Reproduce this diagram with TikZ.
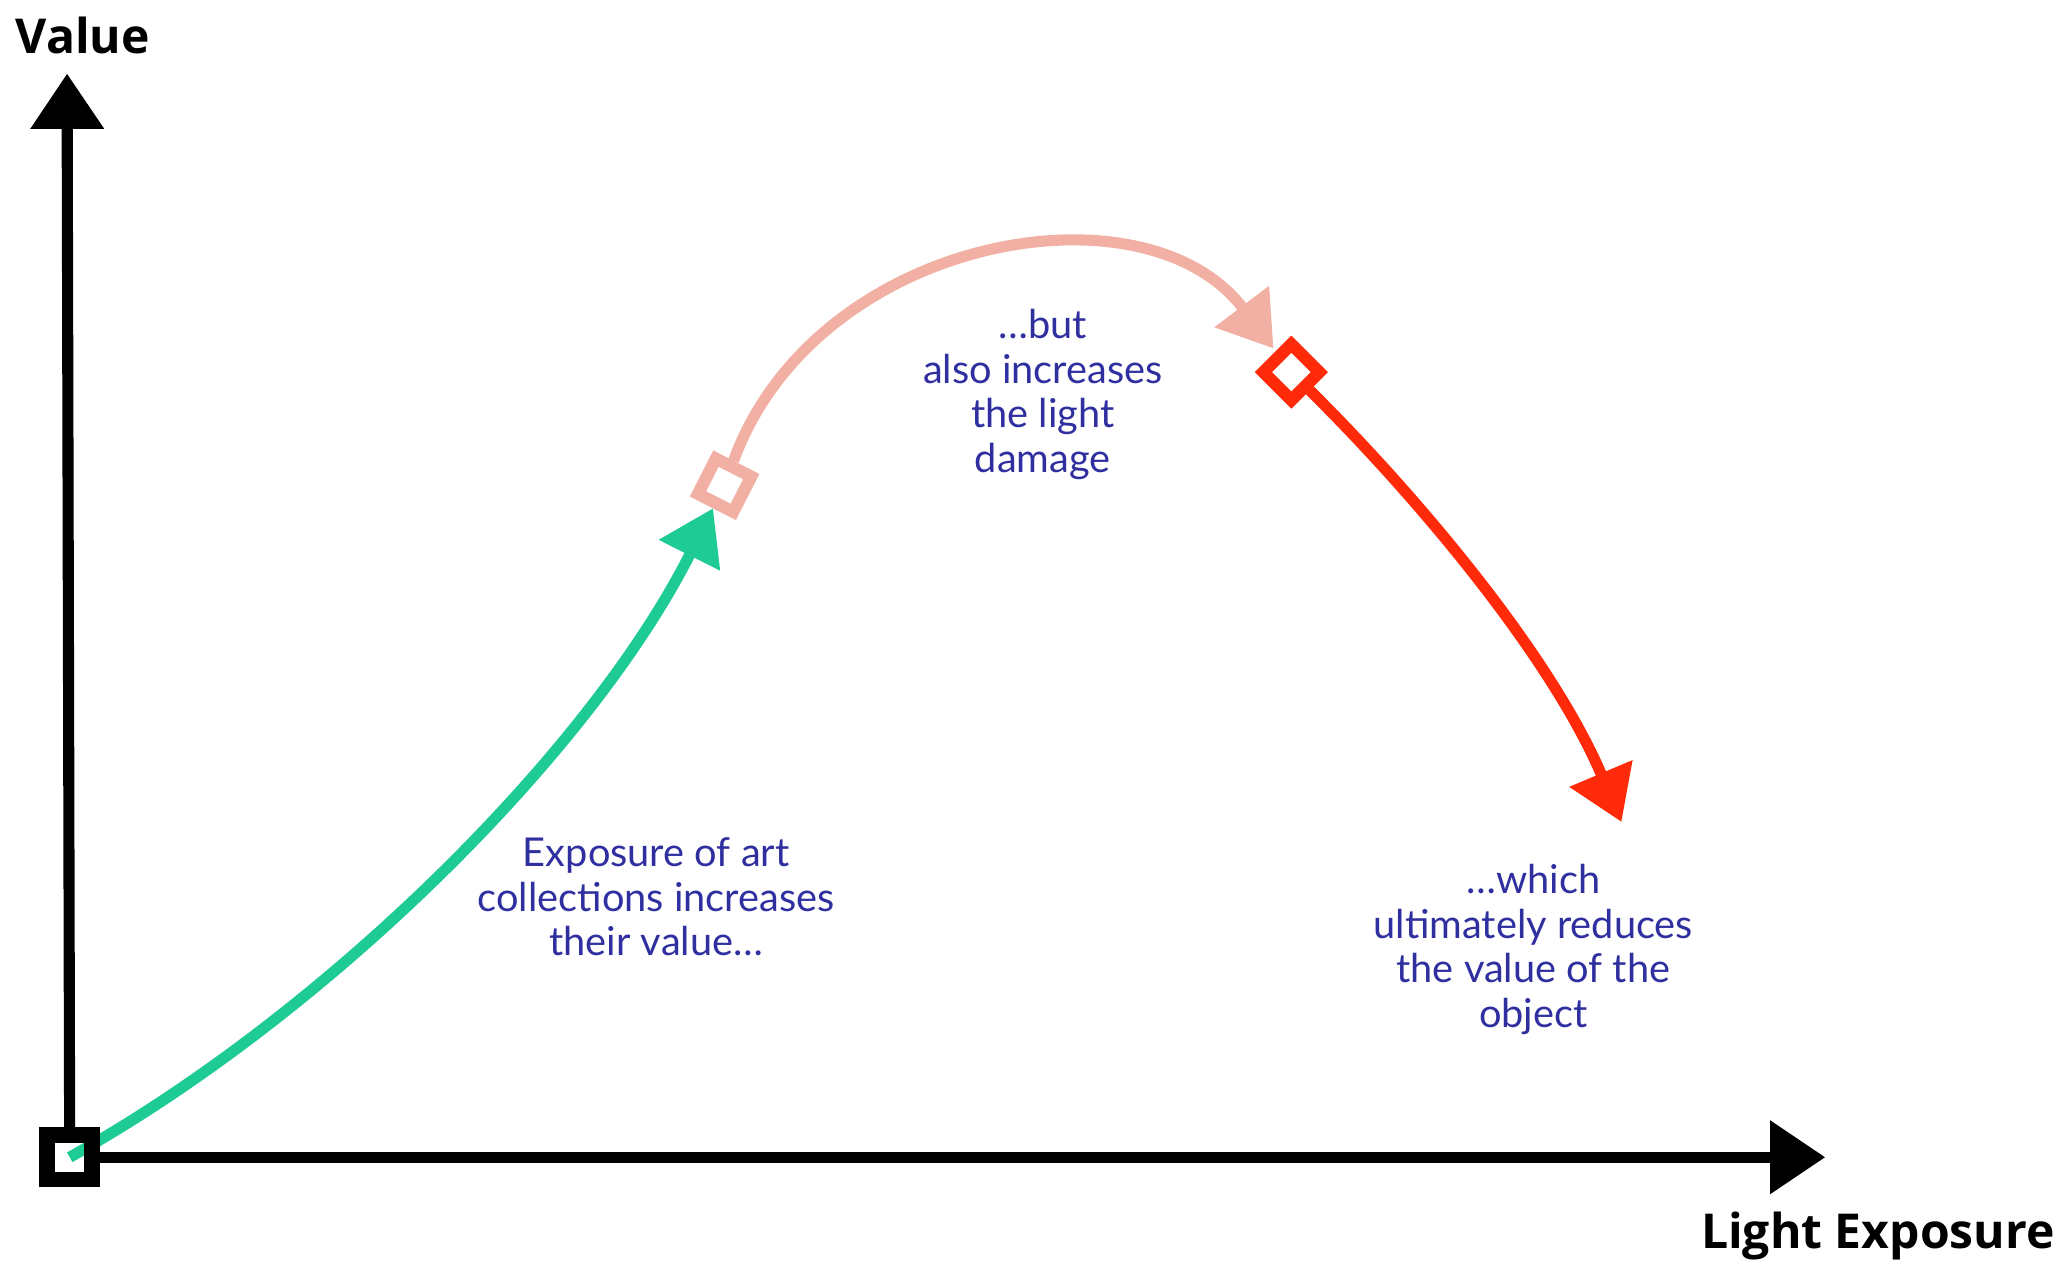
\documentclass[tikz,border=0pt]{standalone}
\usepackage{fontspec}
\usetikzlibrary{arrows.meta}
\newfontfamily\lblfont{Lato}
\newfontfamily\axfont{Open Sans}
\definecolor{cgreen}{HTML}{1FCB95}
\definecolor{cpink}{HTML}{F2B0A4}
\definecolor{cred}{HTML}{FF2A0A}
\definecolor{ctext}{HTML}{2F2FA0}
\tikzset{
  axis/.style={line width=6pt, black, -{Triangle[length=1.05cm,width=1.35cm]}},
  curve/.style={line width=6pt, -{Triangle[length=1.0cm,width=1.25cm]}},
  sqbox/.style={draw=black, line width=8.5pt, minimum size=0.85cm, inner sep=0pt, fill=none},
  diabox/.style={line width=6.5pt, minimum size=0.75cm, inner sep=0pt, fill=white},
  lbl/.style={text=ctext, align=center, font=\lblfont\fontsize{21.5pt}{24.1pt}\selectfont},
  axlbl/.style={text=black, font=\axfont\bfseries\fontsize{26pt}{30pt}\selectfont}
}
\begin{document}
\begin{tikzpicture}[x=0.025cm, y=-0.025cm]
\useasboundingbox (0,0) rectangle (1568,960);
% key points
\node[sqbox] (o) at (53,880) {};
\coordinate (ytop) at (51,56);
\coordinate (xend) at (1388,880);
\node[diabox, draw=cpink, rotate=-27] (d1) at (551,369) {};
\node[diabox, draw=cred, rotate=45] (d2) at (982,283) {};
\coordinate (rend) at (1233,625);
% curves
\draw[curve, cgreen] (o.center) .. controls (250,770) and (450,570) .. (d1);
\draw[curve, cpink, shorten >=2pt] (d1) .. controls (620,180) and (870,135) .. (d2);
\draw[curve, cred] (d2) .. controls (1080,380) and (1180,500) .. (rend);
% axes
\draw[axis] (o) -- (ytop);
\draw[axis] (o) -- (xend);
\node[sqbox] at (o) {};
\node[diabox, draw=cpink, rotate=-27] at (d1) {};
\node[diabox, draw=cred, rotate=45] at (d2) {};
% labels
\node[axlbl] (vlab) at (63,27) {Value};
\node[axlbl] (xlab) at (1428,940) {Light Exposure};
\node[lbl] (t1) at (499,682) {Exposure of art\\collections increases\\their value\dots};
\node[lbl] (t2) at (793,300) {\dots but\\also increases\\the light\\damage};
\node[lbl] (t3) at (1166,722) {\dots which\\ultimately reduces\\the value of the\\object};
\end{tikzpicture}
\end{document}
